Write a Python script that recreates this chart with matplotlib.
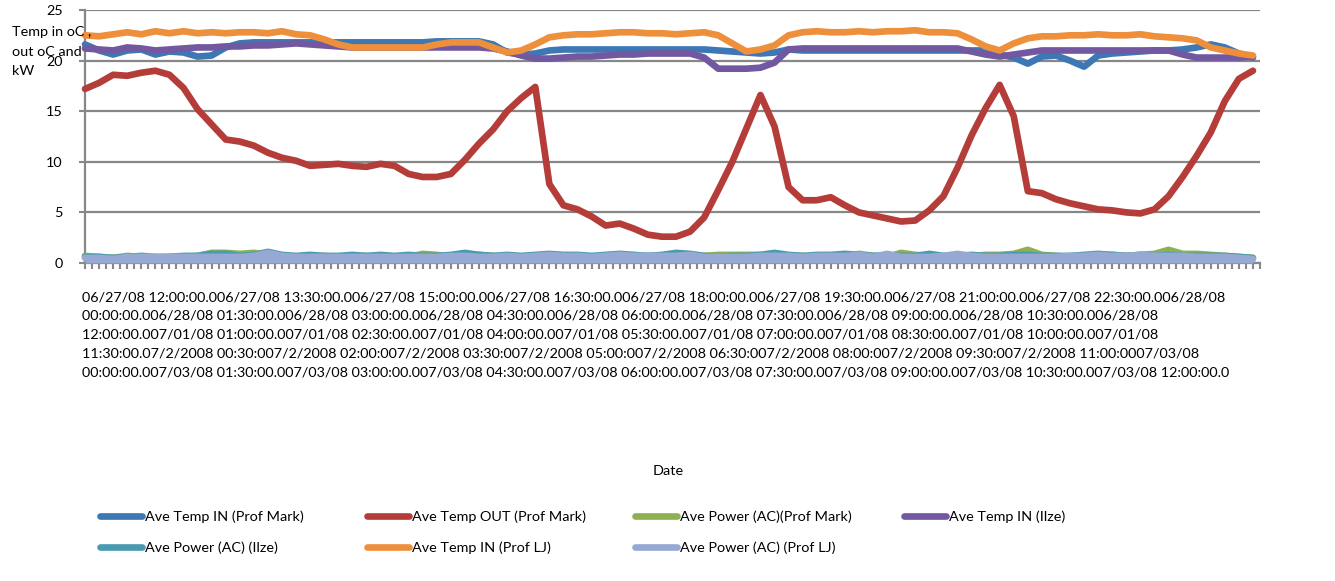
import matplotlib
matplotlib.use("Agg")
import matplotlib.pyplot as plt
from matplotlib.lines import Line2D

plt.rcParams['font.family'] = ['Lato', 'DejaVu Sans']

# category index of each reading (every second category of the 168 on the axis)
idx = list(range(0, 168, 2))

temp_in_mark = [21.6, 21.0, 20.6, 21.0, 21.1, 20.6, 20.9, 20.8, 20.4, 20.5,
                21.3, 21.7, 21.8, 21.8, 21.8, 21.8, 21.8, 21.8, 21.8, 21.8,
                21.8, 21.8, 21.8, 21.8, 21.8, 21.9, 21.9, 21.9, 21.9, 21.6,
                20.8, 20.6, 20.7, 21.0, 21.1, 21.1, 21.1, 21.1, 21.1, 21.1,
                21.1, 21.1, 21.1, 21.1, 21.1, 21.0, 20.9, 20.8, 20.7, 20.8,
                21.1, 21.0, 21.0, 21.0, 21.0, 21.0, 21.0, 21.0, 21.0, 21.0,
                21.0, 21.0, 21.0, 21.0, 21.0, 20.6, 20.3, 19.7, 20.4, 20.5,
                20.0, 19.4, 20.5, 20.7, 20.8, 20.9, 21.0, 21.0, 21.1, 21.3,
                21.6, 21.3, 20.7, 20.3]
temp_out_mark = [17.2, 17.8, 18.6, 18.5, 18.8, 19.0, 18.6, 17.3, 15.2, 13.7,
                 12.2, 12.0, 11.6, 10.9, 10.4, 10.1, 9.6, 9.7, 9.8, 9.6,
                 9.5, 9.8, 9.6, 8.8, 8.5, 8.5, 8.8, 10.2, 11.8, 13.2,
                 15.0, 16.3, 17.4, 7.8, 5.7, 5.3, 4.6, 3.7, 3.9, 3.4,
                 2.8, 2.6, 2.6, 3.1, 4.5, 7.2, 10.0, 13.3, 16.6, 13.5,
                 7.5, 6.2, 6.2, 6.5, 5.7, 5.0, 4.7, 4.4, 4.1, 4.2,
                 5.2, 6.6, 9.4, 12.6, 15.3, 17.6, 14.5, 7.1, 6.9, 6.3,
                 5.9, 5.6, 5.3, 5.2, 5.0, 4.9, 5.3, 6.6, 8.5, 10.6,
                 12.9, 16.0, 18.2, 19.0]
power_mark = [0.7, 0.6, 0.5, 0.7, 0.6, 0.5, 0.6, 0.6, 0.7, 1.0,
              1.0, 0.9, 1.0, 0.8, 0.7, 0.6, 0.6, 0.7, 0.6, 0.6,
              0.7, 0.6, 0.6, 0.6, 0.9, 0.8, 0.6, 0.7, 0.8, 0.7,
              0.6, 0.6, 0.7, 0.8, 0.7, 0.6, 0.6, 0.7, 0.6, 0.6,
              0.7, 0.6, 0.6, 0.7, 0.7, 0.8, 0.8, 0.8, 0.8, 0.7,
              0.7, 0.7, 0.6, 0.7, 0.6, 0.9, 0.7, 0.6, 1.0, 0.8,
              0.7, 0.6, 0.8, 0.7, 0.8, 0.8, 0.9, 1.3, 0.8, 0.7,
              0.6, 0.6, 0.7, 0.8, 0.7, 0.8, 0.9, 1.3, 0.9, 0.9,
              0.8, 0.7, 0.6, 0.5]
temp_in_ilze = [21.2, 21.1, 21.0, 21.3, 21.2, 21.0, 21.1, 21.2, 21.3, 21.3,
                21.4, 21.4, 21.5, 21.5, 21.6, 21.7, 21.6, 21.5, 21.4, 21.3,
                21.3, 21.3, 21.3, 21.3, 21.3, 21.3, 21.3, 21.3, 21.3, 21.2,
                20.9, 20.5, 20.2, 20.2, 20.3, 20.4, 20.4, 20.5, 20.6, 20.6,
                20.7, 20.7, 20.7, 20.7, 20.3, 19.2, 19.2, 19.2, 19.3, 19.8,
                21.1, 21.2, 21.2, 21.2, 21.2, 21.2, 21.2, 21.2, 21.2, 21.2,
                21.2, 21.2, 21.2, 20.9, 20.6, 20.4, 20.6, 20.8, 21.0, 21.0,
                21.0, 21.0, 21.0, 21.0, 21.0, 21.0, 21.0, 21.0, 20.6, 20.3,
                20.3, 20.3, 20.3, 20.4]
power_ilze = [0.6, 0.6, 0.5, 0.6, 0.7, 0.6, 0.6, 0.7, 0.7, 0.9,
              0.9, 0.7, 0.8, 1.1, 0.8, 0.7, 0.8, 0.7, 0.7, 0.8,
              0.7, 0.8, 0.7, 0.8, 0.7, 0.7, 0.8, 1.0, 0.8, 0.7,
              0.8, 0.7, 0.8, 0.9, 0.8, 0.8, 0.7, 0.8, 0.9, 0.8,
              0.7, 0.8, 1.0, 0.9, 0.7, 0.6, 0.7, 0.7, 0.8, 1.0,
              0.8, 0.7, 0.8, 0.8, 0.9, 0.8, 0.7, 0.8, 0.7, 0.7,
              0.9, 0.7, 0.7, 0.8, 0.7, 0.7, 0.8, 0.8, 0.7, 0.7,
              0.7, 0.8, 0.9, 0.8, 0.7, 0.8, 0.7, 0.8, 0.7, 0.7,
              0.7, 0.7, 0.6, 0.5]
temp_in_lj = [22.5, 22.4, 22.6, 22.8, 22.6, 22.9, 22.7, 22.9, 22.7, 22.8,
              22.7, 22.8, 22.8, 22.7, 22.9, 22.6, 22.5, 22.1, 21.6, 21.3,
              21.3, 21.3, 21.3, 21.3, 21.3, 21.6, 21.8, 21.8, 21.8, 21.3,
              20.8, 21.0, 21.6, 22.3, 22.5, 22.6, 22.6, 22.7, 22.8, 22.8,
              22.7, 22.7, 22.6, 22.7, 22.8, 22.5, 21.7, 20.9, 21.1, 21.5,
              22.5, 22.8, 22.9, 22.8, 22.8, 22.9, 22.8, 22.9, 22.9, 23.0,
              22.8, 22.8, 22.7, 22.1, 21.4, 21.0, 21.7, 22.2, 22.4, 22.4,
              22.5, 22.5, 22.6, 22.5, 22.5, 22.6, 22.4, 22.3, 22.2, 22.0,
              21.3, 21.0, 20.7, 20.5]
power_lj = [0.5, 0.5, 0.4, 0.6, 0.6, 0.6, 0.6, 0.6, 0.6, 0.6,
            0.6, 0.6, 0.7, 1.0, 0.7, 0.6, 0.6, 0.6, 0.6, 0.6,
            0.6, 0.6, 0.6, 0.6, 0.6, 0.6, 0.7, 0.7, 0.6, 0.6,
            0.7, 0.6, 0.7, 0.8, 0.7, 0.7, 0.6, 0.7, 0.8, 0.7,
            0.7, 0.7, 0.7, 0.8, 0.6, 0.6, 0.6, 0.6, 0.7, 0.7,
            0.7, 0.6, 0.7, 0.7, 0.7, 0.8, 0.6, 0.9, 0.6, 0.6,
            0.6, 0.7, 0.9, 0.7, 0.6, 0.6, 0.6, 0.6, 0.6, 0.6,
            0.7, 0.7, 0.8, 0.7, 0.7, 0.8, 0.7, 0.7, 0.7, 0.6,
            0.6, 0.6, 0.5, 0.4]

series_names = ['Ave Temp IN (Prof Mark)', 'Ave Temp OUT (Prof Mark)', 'Ave Power (AC)(Prof Mark)',
                'Ave Temp IN (Ilze)', 'Ave Power (AC) (Ilze)', 'Ave Temp IN (Prof LJ)',
                'Ave Power (AC) (Prof LJ)']
series_values = [temp_in_mark, temp_out_mark, power_mark, temp_in_ilze,
                 power_ilze, temp_in_lj, power_lj]
colors = ['#3d77b4', '#b53d39', '#8db150', '#7258a0', '#4a9bb2', '#ee8f3b', '#95a9d3']

# the category labels as excel ran them together under the axis
tick_labels = ['06/27/08 12:00:00.0', '06/27/08 13:30:00.0', '06/27/08 15:00:00.0',
               '06/27/08 16:30:00.0', '06/27/08 18:00:00.0', '06/27/08 19:30:00.0',
               '06/27/08 21:00:00.0', '06/27/08 22:30:00.0', '06/28/08 00:00:00.0',
               '06/28/08 01:30:00.0', '06/28/08 03:00:00.0', '06/28/08 04:30:00.0',
               '06/28/08 06:00:00.0', '06/28/08 07:30:00.0', '06/28/08 09:00:00.0',
               '06/28/08 10:30:00.0', '06/28/08 12:00:00.0', '07/01/08 01:00:00.0',
               '07/01/08 02:30:00.0', '07/01/08 04:00:00.0', '07/01/08 05:30:00.0',
               '07/01/08 07:00:00.0', '07/01/08 08:30:00.0', '07/01/08 10:00:00.0',
               '07/01/08 11:30:00.0', '7/2/2008 00:30:00', '7/2/2008 02:00:00',
               '7/2/2008 03:30:00', '7/2/2008 05:00:00', '7/2/2008 06:30:00',
               '7/2/2008 08:00:00', '7/2/2008 09:30:00', '7/2/2008 11:00:00',
               '07/03/08 00:00:00.0', '07/03/08 01:30:00.0', '07/03/08 03:00:00.0',
               '07/03/08 04:30:00.0', '07/03/08 06:00:00.0', '07/03/08 07:30:00.0',
               '07/03/08 09:00:00.0', '07/03/08 10:30:00.0', '07/03/08 12:00:00.0']
wrap_at = [8, 16, 24, 33]

fs = 10.35
grey = '#878787'

fig = plt.figure(figsize=(13.35, 5.81), dpi=100)
ax = fig.add_axes([85 / 1335, 1 - 263 / 581, 1175 / 1335, 253 / 581])

for name, vals, c in zip(series_names, series_values, colors):
    if name == 'Ave Power (AC) (Prof LJ)':
        ax.fill_between(idx, 0, vals, color=c, lw=0, zorder=3)
    ax.plot(idx, vals, color=c, lw=4.8, solid_capstyle='round', zorder=3, clip_on=False)

ax.set_xlim(0, 167)
ax.set_ylim(0, 25)
ax.set_yticks([0, 5, 10, 15, 20, 25])
ax.set_xticks(range(168))
ax.set_xticklabels([])
ax.grid(axis='y', color=grey, lw=1.6)
ax.set_axisbelow(True)
for s in ['top', 'right']:
    ax.spines[s].set_visible(False)
for s in ['left', 'bottom']:
    ax.spines[s].set_color(grey)
    ax.spines[s].set_linewidth(1.6)
ax.tick_params(axis='x', length=4, width=1.5, color=grey)
ax.tick_params(axis='y', length=4, width=1.5, color=grey, pad=12, labelsize=fs)

# x labels block
txt = ''
for i, lab in enumerate(tick_labels):
    if i in wrap_at:
        d, t = lab.split(' ', 1)
        txt += d + '\n' + t
    else:
        txt += lab
fig.text(82 / 1335, 1 - 291 / 581, txt, ha='left', va='top', fontsize=fs, linespacing=1.68)

fig.text(668 / 1335, 1 - 471 / 581, 'Date', ha='center', va='center', fontsize=fs)
fig.text(12 / 1335, 1 - 26 / 581, 'Temp in oC ,\nout oC and\nkW', ha='left', va='top',
         fontsize=fs, linespacing=1.75)

# legend, laid out in rows like excel
handles = [Line2D([], [], color=c, lw=4.8, solid_capstyle='round') for c in colors]
col_x = [100, 367, 635, 904]
for j, x in enumerate(col_x):
    ids = [k for k in (j, j + 4) if k < len(handles)]
    fig.legend([handles[k] for k in ids], [series_names[k] for k in ids],
               loc='upper left', bbox_to_anchor=(x / 1335, 1 - 510 / 581),
               frameon=False, fontsize=fs, borderpad=0, borderaxespad=0,
               handlelength=2.95, handletextpad=0.15, labelspacing=1.3)

fig.savefig('out.png', dpi=100)
